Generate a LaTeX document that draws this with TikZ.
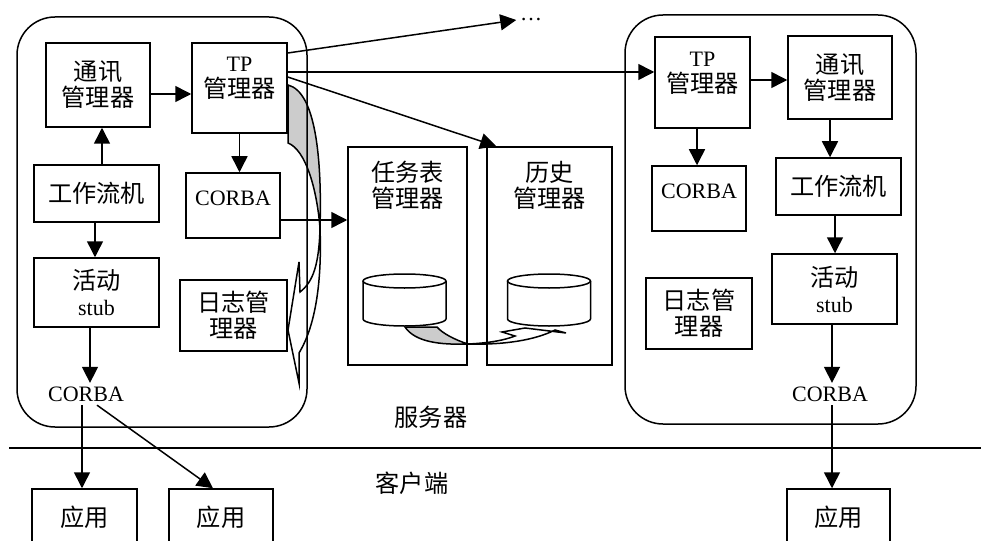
\documentclass[tikz,border=0pt]{standalone}
\usepackage{fontspec}
\setmainfont{Liberation Serif}
\newfontfamily\zhfont{Noto Sans CJK SC}[Scale=1.1]
\newcommand{\zh}[1]{{\zhfont #1}}
\usepackage{tikz}
\usetikzlibrary{positioning}
\usetikzlibrary{calc}
\usetikzlibrary{arrows.meta}

\begin{document}
\begin{tikzpicture}[x=1pt, y=-1pt, line width=1.5pt, font=\fontsize{22}{26}\selectfont,
	box/.style={draw, align=center, inner sep=2pt},
	lbl/.style={align=center, anchor=north},
	txt/.style={inner sep=3pt},
	arr/.style={-{Triangle[length=16pt,width=16pt]}},
	swoosh/.style={fill=black!20}]
	\useasboundingbox (0,0) rectangle (981,540);
	% the two twisted arrows
	\draw [swoosh] (288,85) .. controls (316,92) and (322,160) .. (320,228) .. controls (317,190) and (306,150) .. (288,143) -- cycle;
	\draw (320,228) .. controls (319,265) and (313,282) .. (300,292) -- (299,262) -- (288,330) -- (299,383) -- (299,353) .. controls (316,325) and (322,280) .. (320,228);
	\draw [rounded corners=38pt] (17,17) rectangle (307,427);
	\draw [rounded corners=38pt] (625,15) rectangle (916,424);
	\draw (9,448) -- (981,448);
	\node at (431,417) (srv) {\zh{服务器}}; \node at (412,483) (cli) {\zh{客户端}};
	\node [box, minimum width=104, minimum height=84] at (98,85) (lComm) {\zh{通讯}\\\zh{管理器}};
	\node [box, minimum width=95, minimum height=90, label={[lbl, yshift=-11pt]north:TP\\\zh{管理器}}] at (239.5,88) (lTP) {};
	\node [box, minimum width=125, minimum height=57] at (96.5,193.5) (lWF) {\zh{工作流机}};
	\node [box, minimum width=94, minimum height=65, label={[lbl, yshift=-15pt]north:CORBA}] at (233,205.5) (lCorba) {};
	\node [box, minimum width=125, minimum height=69] at (96.5,292.5) (lStub) {\zh{活动}\\stub};
	\node [box, minimum width=107, minimum height=71] at (233.5,315.5) (lLog) {\zh{日志管}\\\zh{理器}};
	\node [txt] at (86,394) (lOrb) {CORBA};
	\node [box, minimum width=119, minimum height=218, label={[lbl, yshift=-11pt]north:\zh{任务表}\\\zh{管理器}}] at (407.5,256) (task) {};
	\node [box, minimum width=125, minimum height=218, label={[lbl, yshift=-11pt]north:\zh{历史}\\\zh{管理器}}] at (549.5,256) (hist) {};
	\foreach \cx in {404.5,549} {
		\draw [fill=white] (\cx-41.5,281) -- (\cx-41.5,319) arc[start angle=180, end angle=360, x radius=41.5pt, y radius=7pt] -- (\cx+41.5,281);
		\draw (\cx,281) ellipse [x radius=41.5pt, y radius=7pt];
	}
	\draw [swoosh] (405,327) .. controls (415,342) and (440,345) .. (468,344) .. controls (455,340) and (442,333) .. (437,327) -- cycle;
	\draw (468,344) .. controls (490,343) and (505,340) .. (515,336) -- (502,332) -- (525,328) -- (566,333) -- (555,330) .. controls (535,340) and (505,345) .. (468,344);
	\node [box, minimum width=95, minimum height=91, label={[lbl, yshift=-12pt]north:TP\\\zh{管理器}}] at (702.5,82.5) (rTP) {};
	\node [box, minimum width=104, minimum height=83] at (840,77.5) (rComm) {\zh{通讯}\\\zh{管理器}};
	\node [box, minimum width=94, minimum height=65, label={[lbl, yshift=-15pt]north:CORBA}] at (699,198.5) (rCorba) {};
	\node [box, minimum width=125, minimum height=57] at (838.5,186.5) (rWF) {\zh{工作流机}};
	\node [box, minimum width=125, minimum height=70] at (834.5,289) (rStub) {\zh{活动}\\stub};
	\node [box, minimum width=106, minimum height=71] at (699,313.5) (rLog) {\zh{日志管}\\\zh{理器}};
	\node [txt] at (830,394) (rOrb) {CORBA};
	\node [box, minimum width=105, minimum height=56] at (84.5,517) (app1) {\zh{应用}};
	\node [box, minimum width=104, minimum height=56] at (221,517) (app2) {\zh{应用}};
	\node [box, minimum width=103, minimum height=56] at (838.5,517) (app3) {\zh{应用}};
	\node [txt] at (531,20) (more) {…};
	\draw [arr] ([yshift=-9pt]lComm.east) -- ([yshift=-9pt]lComm.east -| lTP.west);
	\draw [arr] ([xshift=5.5pt]lWF.north) -- ([xshift=5.5pt]lWF.north |- lComm.south);
	\draw [arr] (lTP.south) -- (lTP.south |- lCorba.north);
	\draw [arr] ([xshift=-1.5pt]lWF.south) -- ([xshift=-1.5pt]lWF.south |- lStub.north);
	\draw [arr] ([xshift=-6.5pt]lStub.south) -- ([xshift=-6.5pt]lStub.south |- lOrb.north);
	\draw [arr] ([xshift=-4pt]lOrb.south) -- ([xshift=-4pt]lOrb.south |- app1.north);
	\draw [arr] ([xshift=11pt]lOrb.south) -- ([xshift=-8pt]app2.north);
	\draw [arr] ([yshift=35pt]lTP.east) -- (more.west);
	\draw [arr] ([yshift=16pt]lTP.east) -- ([yshift=16pt]lTP.east -| rTP.west);
	\draw [arr] ([yshift=11pt]lTP.east) -- ([xshift=10pt]hist.north west);
	\draw [arr] ([yshift=-14.5pt]lCorba.east) -- ([yshift=-14.5pt]lCorba.east -| task.west);
	\draw [arr] ([yshift=2.5pt]rTP.east) -- ([yshift=2.5pt]rTP.east -| rComm.west);
	\draw [arr] ([xshift=-5.5pt]rTP.south) -- ([xshift=-5.5pt]rTP.south |- rCorba.north);
	\draw [arr] ([xshift=-10pt]rComm.south) -- ([xshift=-10pt]rComm.south |- rWF.north);
	\draw [arr] ([xshift=-3.5pt]rWF.south) -- ([xshift=-3.5pt]rWF.south |- rStub.north);
	\draw [arr] ([xshift=-2.5pt]rStub.south) -- ([xshift=-2.5pt]rStub.south |- rOrb.north);
	\draw [arr] ([xshift=2pt]rOrb.south) -- ([xshift=2pt]rOrb.south |- app3.north);
\end{tikzpicture}
\end{document}
